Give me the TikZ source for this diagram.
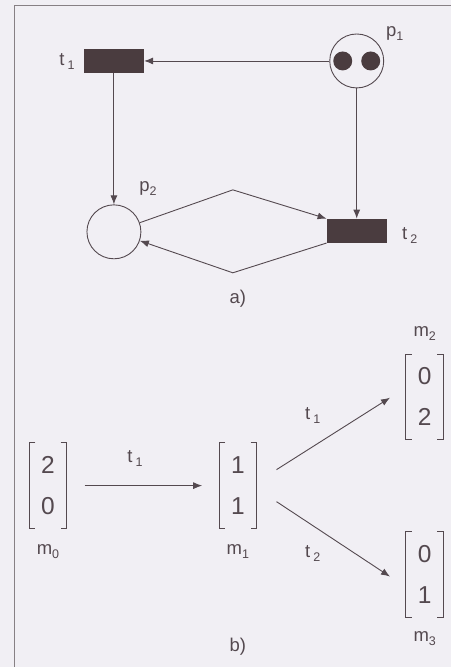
\documentclass[tikz,border=0pt]{standalone}
\usepackage{fontspec}
\setmainfont{Liberation Sans}
\usetikzlibrary{arrows.meta, positioning}
\definecolor{ink}{HTML}{54494F}
\definecolor{bar}{HTML}{4A3C3F}
\definecolor{paper}{HTML}{F1EFF4}
\newcommand{\ix}[1]{\raisebox{-4pt}{\fontsize{12.5}{13}\selectfont#1}}

\begin{document}
\begin{tikzpicture}[x=1pt, y=-1pt,
  place/.style={draw=ink, circle, minimum size=54pt, inner sep=0pt, line width=0.9pt},
  trans/.style={fill=bar, minimum width=60pt, minimum height=24pt, inner sep=0pt},
  token/.style={fill=bar, circle, minimum size=19pt, inner sep=0pt},
  lbl/.style={font=\fontsize{18.5}{20}\selectfont, text=ink, inner sep=1pt},
  vec/.style={minimum width=37pt, minimum height=85pt, inner sep=0pt, align=center, font=\fontsize{24.5}{41}\selectfont, text=ink},
  arc/.style={-{Latex[length=9pt, width=7pt]}, ink, line width=0.9pt},
  brk/.style={ink, line width=1pt}
]
\fill[paper] (0,0) rectangle (451,667);
\draw[ink!70, line width=1pt] (15,667) -- (15,5) -- (451,5);

\node[place] (p1) at (357,61) {};
\node[token] (k1) at (343,61) {};
\node[token] (k2) at (371,61) {};
\node[lbl, anchor=base] (p1l) at (395,37) {p\ix{1}};
\node[trans] (t1) at (114,61) {};
\node[lbl, anchor=base] (t1l) at (67,66) {t\,\ix{1}};
\node[place] (p2) at (114,232) {};
\node[lbl, anchor=base] (p2l) at (148,192) {p\ix{2}};
\node[trans] (t2) at (357,231) {};
\node[lbl, anchor=base] (t2l) at (410,240) {t\,\ix{2}};
\coordinate (up) at (233,190);
\coordinate (dn) at (233,273);

\draw[arc] (p1) -- (t1);
\draw[arc] (p1) -- (t2);
\draw[arc] (t1) -- (p2);
\draw[arc] (p2) -- (up) -- (t2.north west);
\draw[arc] (t2.south west) -- (dn) -- (p2);
\node[lbl, anchor=base] (capa) at (238,304) {a)};

\node[vec] (m0) at (48,486) {2\\0};
\node[vec] (m1) at (238,486) {1\\1};
\node[vec] (m2) at (425,397) {0\\2};
\node[vec] (m3) at (425,575) {0\\1};
\foreach \m in {m0,m1,m2,m3}
  \draw[brk] ([xshift=6pt]\m.north west) -- (\m.north west) -- (\m.south west) -- ([xshift=6pt]\m.south west)
             ([xshift=-6pt]\m.north east) -- (\m.north east) -- (\m.south east) -- ([xshift=-6pt]\m.south east);
\node[lbl, anchor=base] (m0l) at (48,555) {m\ix{0}};
\node[lbl, anchor=base] (m1l) at (238,555) {m\ix{1}};
\node[lbl, anchor=base] (m2l) at (425,337) {m\ix{2}};
\node[lbl, anchor=base] (m3l) at (425,642) {m\ix{3}};

\draw[arc] ([xshift=18pt]m0.east) -- ([xshift=-17pt]m1.west);
\draw[arc] ([shift={(20,-16)}]m1.east) -- ([shift={(-16,1)}]m2.west);
\draw[arc] ([shift={(20,16)}]m1.east) -- ([shift={(-16,2)}]m3.west);
\node[lbl, anchor=base] (e1) at (135,463) {t\,\ix{1}};
\node[lbl, anchor=base] (e2) at (313,420) {t\,\ix{1}};
\node[lbl, anchor=base] (e3) at (313,558) {t\,\ix{2}};
\node[lbl, anchor=base] (capb) at (238,652) {b)};
\end{tikzpicture}
\end{document}
